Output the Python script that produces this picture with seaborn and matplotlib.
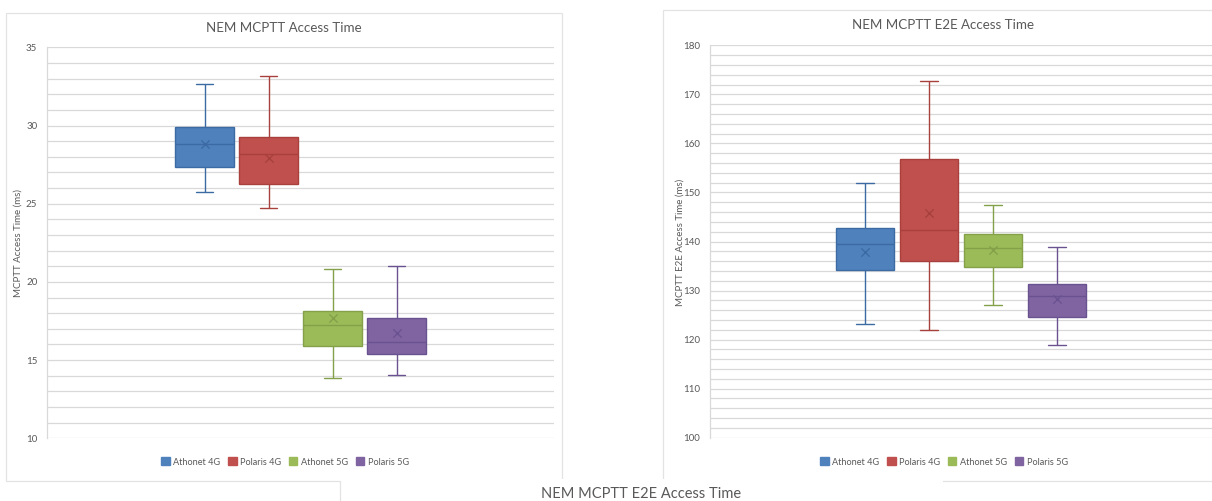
import numpy as np
import pandas as pd
import matplotlib
matplotlib.use("Agg")
import matplotlib.pyplot as plt
from matplotlib.patches import Rectangle, Patch
from matplotlib.lines import Line2D
from matplotlib.ticker import MultipleLocator
import seaborn as sns

# ---------------- data ----------------
series = ["Athonet 4G", "Polaris 4G", "Athonet 5G", "Polaris 5G"]

# NEM MCPTT Access Time (ms): min, q1, median, q3, max
access_min = [25.77, 24.70, 13.87, 14.06]
access_q1 = [27.36, 26.28, 15.93, 15.37]
access_median = [28.83, 28.15, 17.25, 16.15]
access_q3 = [29.89, 29.28, 18.15, 17.69]
access_max = [32.64, 33.17, 20.81, 21.00]
access_mean = [28.84, 27.94, 17.69, 16.74]

# NEM MCPTT E2E Access Time (ms)
e2e_min = [123.1, 122.05, 127.05, 118.9]
e2e_q1 = [134.2, 136.0, 134.73, 124.54]
e2e_median = [139.4, 142.33, 138.74, 128.82]
e2e_q3 = [142.73, 156.82, 141.46, 131.27]
e2e_max = [151.85, 172.8, 147.51, 138.95]
e2e_mean = [137.84, 145.86, 138.2, 128.2]

fills = ["#4F81BD", "#C0504D", "#9BBB59", "#8064A2"]
edges = ["#3C6BA3", "#A8403D", "#84A049", "#6A5290"]

W, H = 1212, 501
sns.set_theme(style="white")
plt.rcParams["font.family"] = ["Lato", "DejaVu Sans"]
TXT = "#595959"
GRID = "#D9D9D9"
FRAME = "#E3E3E3"

fig = plt.figure(figsize=(W / 100, H / 100), dpi=100)
fig.patch.set_facecolor("white")


def fx(px):
    return px / W


def fy(py):
    return 1 - py / H


def make_long(mins, q1s, meds, q3s, maxs):
    rows = []
    for s, a, b, c, d, e in zip(series, mins, q1s, meds, q3s, maxs):
        for v in (a, b, c, d, e):
            rows.append({"series": s, "value": v})
    return pd.DataFrame(rows)


def draw_chart(ax, df, means, ylim, major, minor, half):
    for s, fc, ec in zip(series, fills, edges):
        sub = df[df["series"] == s]
        sns.boxplot(data=sub, x="series", y="value", order=series,
                    color=fc, linecolor=ec, saturation=1, width=0.915,
                    whis=(0, 100), showfliers=False, linewidth=1.0,
                    capwidths=0.27, ax=ax)
    mdf = pd.DataFrame({"series": series, "mean": means})
    sns.stripplot(data=mdf, x="series", y="mean", order=series,
                  hue="series", hue_order=series, palette=edges,
                  marker="x", size=6, linewidth=1.0, jitter=False,
                  legend=False, ax=ax, zorder=5)
    ax.set_ylim(*ylim)
    ax.set_xlim(1.5 - half, 1.5 + half)
    ax.yaxis.set_major_locator(MultipleLocator(major))
    ax.yaxis.set_minor_locator(MultipleLocator(minor))
    ax.grid(True, which="both", axis="y", color=GRID, lw=0.9)
    ax.set_axisbelow(True)
    ax.set_xticks([])
    ax.set_xlabel("")
    ax.set_ylabel("")
    for sp in ["top", "right", "bottom"]:
        ax.spines[sp].set_visible(False)
    ax.spines["left"].set_color(GRID)
    ax.spines["left"].set_linewidth(0.9)
    ax.tick_params(axis="y", which="both", length=0, pad=7,
                   labelsize=7, labelcolor=TXT)
    ax.set_facecolor("white")


# chart frames
fig.add_artist(Rectangle((fx(6), fy(481)), fx(556), 468 / H,
                         transform=fig.transFigure, facecolor="white",
                         edgecolor=FRAME, lw=0.9, zorder=0))
fig.add_artist(Rectangle((fx(663), fy(481)), fx(562), 471 / H,
                         transform=fig.transFigure, facecolor="white",
                         edgecolor=FRAME, lw=0.9, zorder=0))

# left chart
ax1 = fig.add_axes([fx(47), fy(438.3), fx(507), 391 / H])
draw_chart(ax1, make_long(access_min, access_q1, access_median, access_q3, access_max),
           access_mean, (10, 35), 5, 1, 507 / 64 / 2)

# right chart
ax2 = fig.add_axes([fx(710), fy(437.7), fx(502), 392.4 / H])
draw_chart(ax2, make_long(e2e_min, e2e_q1, e2e_median, e2e_q3, e2e_max),
           e2e_mean, (100, 180), 10, 2, 502 / 64 / 2)

# titles
fig.text(fx(284), fy(28), "NEM MCPTT Access Time", ha="center", va="center",
         fontsize=9.6, color=TXT)
fig.text(fx(943), fy(25), "NEM MCPTT E2E Access Time", ha="center", va="center",
         fontsize=9.6, color=TXT)
fig.text(fx(18), fy(243), "MCPTT Access Time (ms)", rotation=90,
         ha="center", va="center", fontsize=7, color=TXT)
fig.text(fx(680), fy(242), "MCPTT E2E Access Time (ms)", rotation=90,
         ha="center", va="center", fontsize=7, color=TXT)

# legends
handles = [Patch(facecolor=f, edgecolor=f, label=s) for s, f in zip(series, fills)]
for cx in (285, 944):
    fig.legend(handles=handles, loc="center", bbox_to_anchor=(fx(cx), fy(462)),
               ncol=4, frameon=False, fontsize=6.6, labelcolor=TXT,
               handlelength=0.95, handleheight=0.95, handletextpad=0.4,
               columnspacing=0.8)

# third chart peeking at bottom
fig.add_artist(Rectangle((fx(340), 0), fx(603), 22 / H,
                         transform=fig.transFigure, facecolor="white",
                         edgecolor="none", zorder=10))
fig.add_artist(Line2D([fx(340), fx(340)], [0, fy(480.5)],
                      transform=fig.transFigure, color=FRAME, lw=0.9, zorder=11))
fig.text(fx(641), fy(494), "NEM MCPTT E2E Access Time", ha="center", va="center",
         fontsize=10.5, color=TXT, zorder=12)

fig.savefig("out.png", dpi=100, facecolor="white")
